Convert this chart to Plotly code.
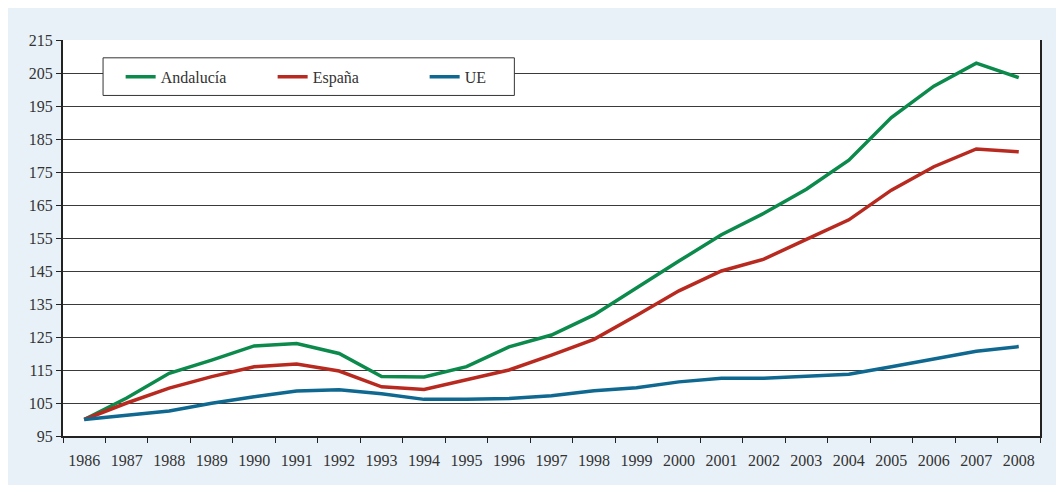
import plotly.graph_objects as go

years = [str(y) for y in range(1986, 2009)]

andalucia = [100, 106.5, 114, 118, 122.3, 123, 120, 113, 112.9, 116, 122,
             125.6, 131.7, 140, 148, 156, 162.5, 169.8, 178.6, 191.5, 201, 208, 203.6]
espana = [100, 105, 109.5, 113, 116, 116.8, 114.7, 109.9, 109.1, 112, 115,
          119.5, 124.3, 131.5, 139, 145, 148.6, 154.6, 160.5, 169.5, 176.6, 182, 181.1]
ue = [100, 101.2, 102.6, 104.9, 106.9, 108.6, 109, 107.8, 106.1, 106.1, 106.4,
      107.2, 108.7, 109.6, 111.4, 112.5, 112.5, 113.1, 113.7, 116, 118.4, 120.7, 122.1]

y_ticks = list(range(95, 216, 10))

series = [
    ("Andalucía", andalucia, "#0b8a4c"),
    ("España", espana, "#b82a20"),
    ("UE", ue, "#0f6890"),
]

fig = go.Figure()
for name, vals, color in series:
    fig.add_trace(go.Scatter(x=years, y=vals, name=name, mode="lines",
                             line=dict(color=color, width=3.5)))

fig.update_xaxes(
    type="category",
    range=[-0.5, len(years) - 0.5],
    tickson="boundaries",
    ticks="outside", ticklen=5, tickwidth=1, tickcolor="#222",
    showline=True, linecolor="#222", linewidth=2,
    showgrid=False,
    ticklabelstandoff=9,
    tickfont=dict(size=16, color="#333"),
)

fig.update_yaxes(
    range=[95, 215],
    tickvals=y_ticks,
    ticks="outside", ticklen=5, tickwidth=1, tickcolor="#222",
    showline=True, linecolor="#222", linewidth=2, mirror=True,
    showgrid=True, gridcolor="#3a3a3a", gridwidth=1,
    zeroline=False,
    tickfont=dict(size=16, color="#333"),
)

# legend box (white, hides the grid line behind the legend)
fig.add_shape(type="rect", xref="paper", yref="paper",
              x0=0.041, x1=0.462, y0=0.86, y1=0.955,
              fillcolor="white", line=dict(color="#333", width=1), layer="above")

# page body adds an 8px white margin, so the figure is 8px smaller
fig.update_layout(
    width=1056, height=477,
    margin=dict(l=55, r=24, t=32, b=49),
    paper_bgcolor="#e8f1f8",
    plot_bgcolor="white",
    font=dict(family="Liberation Serif", size=16, color="#333"),
    showlegend=True,
    legend=dict(
        orientation="h",
        x=0.059, y=0.95, xanchor="left", yanchor="top",
        bgcolor="rgba(0,0,0,0)", borderwidth=0,
        font=dict(size=16, color="#333"),
        entrywidth=107,
    ),
)

fig.write_html("out.html")
